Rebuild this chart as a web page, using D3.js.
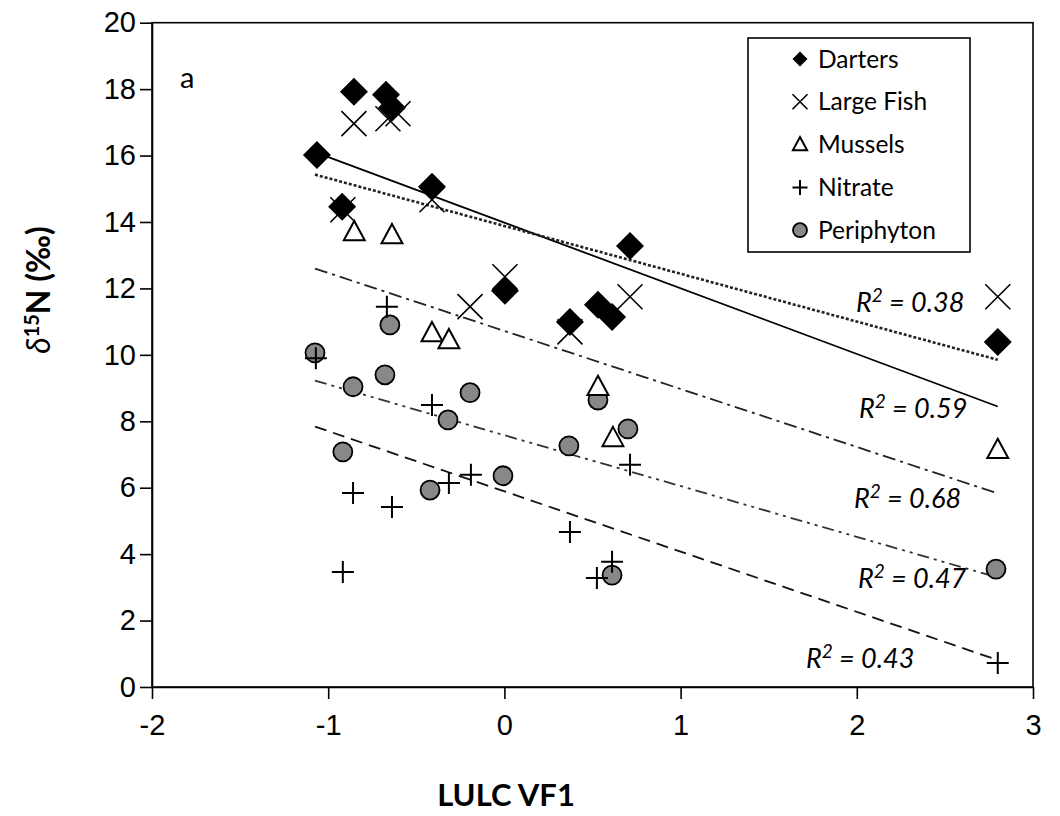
<!DOCTYPE html>
<meta charset="utf-8">
<style>
 body { margin: 0; background: #fff; }
 svg { font-family: Lato, "Open Sans", sans-serif; }
 .axis path, .axis line { stroke: #000; stroke-width: 1.6px; }
 .axis text { font-size: 29px; fill: #000; }
 .fit { fill: none; }
 .r2 { font-size: 27px; font-style: italic; }
 .legend text { font-size: 24.5px; }
</style>
<svg id="chart" width="1060" height="816"></svg>
<script src="https://cdn.jsdelivr.net/npm/d3@7"></script>
<script>

 // point values: [LULC VF1, d15N]
 var darters = [[-1.064,16.02],[-0.854,17.92],[-0.672,17.83],[-0.638,17.44],[-0.411,15.06],[-0.921,14.46],
                [0.003,11.93],[0.713,13.28],[0.372,10.99],[0.531,11.51],[0.611,11.14],[2.80,10.39]];
 var largeFish = [[-0.854,16.96],[-0.661,17.11],[-0.604,17.26],[-0.917,14.37],[-0.411,14.67],[-0.195,11.45],
                  [0.003,12.35],[0.713,11.75],[0.372,10.69],[2.80,11.75]];
 var mussels = [[-0.852,13.70],[-0.638,13.61],[-0.411,10.66],[-0.315,10.45],[0.531,9.04],[0.616,7.50],[2.80,7.14]];
 var nitrate = [[-1.07,9.9],[-0.667,11.45],[-0.411,8.49],[-0.859,5.84],[-0.638,5.42],[-0.917,3.46],[-0.315,6.14],
                [-0.190,6.39],[0.372,4.67],[0.713,6.69],[0.611,3.77],[0.525,3.28],[2.80,0.72]];
 var periphyton = [[-0.650,10.90],[-1.075,10.06],[-0.859,9.04],[-0.678,9.40],[-0.195,8.86],[-0.320,8.04],
                   [-0.917,7.08],[-0.422,5.93],[-0.008,6.36],[0.366,7.26],[0.531,8.64],[0.701,7.77],
                   [0.611,3.37],[2.79,3.55]];

 // fitted lines as drawn: slope, intercept, R2 label
 var fitNames = ["Darters", "Large Fish", "Mussels", "Periphyton", "Nitrate"];
 var fitSlope = [-1.977, -1.439, -1.747, -1.530, -1.814];
 var fitIntercept = [13.98, 13.88, 10.72, 7.58, 5.89];
 var fitR2 = ["0.59", "0.38", "0.68", "0.47", "0.43"];
 var fitRange = [-1.075, 2.80];

 var xTicks = [-2, -1, 0, 1, 2, 3];
 var yTicks = [0, 2, 4, 6, 8, 10, 12, 14, 16, 18, 20];
 var legendNames = ["Darters", "Large Fish", "Mussels", "Nitrate", "Periphyton"];

 var svg = d3.select("#chart");
 var x = d3.scaleLinear().domain([-2, 3]).range([152, 1033]);
 var y = d3.scaleLinear().domain([0, 20]).range([687, 22.7]);

 svg.append("g").attr("class", "axis").attr("transform", "translate(0,687)")
    .call(d3.axisBottom(x).tickValues(xTicks).tickFormat(function(d) { return String(d); })
          .tickSize(12).tickPadding(10).tickSizeOuter(0))
    .selectAll("text").attr("dy", "0.9em");
 svg.append("g").attr("class", "axis").attr("transform", "translate(152,0)")
    .call(d3.axisLeft(y).tickValues(yTicks).tickSize(12).tickPadding(4).tickSizeOuter(0));

 // plot frame
 svg.append("rect").attr("x", x(-2)).attr("y", y(20)).attr("width", x(3) - x(-2)).attr("height", y(0) - y(20))
    .attr("fill", "none").attr("stroke", "#000").attr("stroke-width", 1.6);

 // fitted lines
 var dashes = {"Darters": null, "Large Fish": "3,2", "Mussels": "13,5,3,5", "Periphyton": "12,5,3,5,3,5", "Nitrate": "12,7"};
 var widths = {"Darters": 1.8, "Large Fish": 2.6, "Mussels": 1.8, "Periphyton": 1.8, "Nitrate": 1.8};
 var colors = {"Darters": "#000", "Large Fish": "#222", "Mussels": "#222", "Periphyton": "#333", "Nitrate": "#111"};
 fitNames.forEach(function(n, i) {
     svg.append("line").attr("class", "fit")
        .attr("x1", x(fitRange[0])).attr("y1", y(fitSlope[i] * fitRange[0] + fitIntercept[i]))
        .attr("x2", x(fitRange[1])).attr("y2", y(fitSlope[i] * fitRange[1] + fitIntercept[i]))
        .attr("stroke", colors[n]).attr("stroke-width", widths[n])
        .attr("stroke-dasharray", dashes[n]);
 });

 // marker shapes
 function marker(g, type, s) {
     if (type == "Darters")
         g.append("path").attr("d", "M0," + (-s) + "L" + s + ",0L0," + s + "L" + (-s) + ",0Z").attr("fill", "#000");
     else if (type == "Large Fish")
         g.append("path").attr("d", "M" + (-s) + "," + (-s) + "L" + s + "," + s + "M" + (-s) + "," + s + "L" + s + "," + (-s))
          .attr("stroke", "#000").attr("stroke-width", 1.6).attr("fill", "none");
     else if (type == "Mussels")
         g.append("path").attr("d", "M0," + (-s) + "L" + (s * 0.95) + "," + (s * 0.75) + "L" + (-s * 0.95) + "," + (s * 0.75) + "Z")
          .attr("stroke", "#000").attr("stroke-width", 2).attr("fill", "#fff");
     else if (type == "Nitrate")
         g.append("path").attr("d", "M" + (-s) + ",0L" + s + ",0M0," + (-s) + "L0," + s)
          .attr("stroke", "#000").attr("stroke-width", 2).attr("fill", "none");
     else
         g.append("circle").attr("r", s).attr("fill", "#888").attr("stroke", "#000").attr("stroke-width", 1.8);
 }

 var sizes = {"Darters": 14, "Large Fish": 12.5, "Mussels": 11, "Nitrate": 11, "Periphyton": 9.5};
 var order = [["Periphyton", periphyton], ["Nitrate", nitrate], ["Mussels", mussels], ["Large Fish", largeFish], ["Darters", darters]];
 order.forEach(function(o) {
     svg.append("g").selectAll("g").data(o[1]).enter().append("g")
        .attr("transform", function(d) { return "translate(" + x(d[0]) + "," + y(d[1]) + ")"; })
        .each(function() { marker(d3.select(this), o[0], sizes[o[0]]); });
 });

 // R2 labels
 var r2Pos = {"Large Fish": [856, 312], "Darters": [859, 418], "Mussels": [854, 508], "Periphyton": [858, 588], "Nitrate": [806, 668]};
 fitNames.forEach(function(n, i) {
     var t = svg.append("text").attr("class", "r2").attr("x", r2Pos[n][0]).attr("y", r2Pos[n][1]);
     t.append("tspan").text("R");
     t.append("tspan").attr("dy", -10).attr("font-size", 19).text("2");
     t.append("tspan").attr("dy", 10).text(" = " + fitR2[i]);
 });

 // panel letter
 svg.append("text").attr("x", 180).attr("y", 88).attr("font-size", 29).text("a");

 // axis titles
 svg.append("text").attr("x", 506).attr("y", 806).attr("text-anchor", "middle")
    .attr("font-size", 31).attr("font-weight", "bold").text("LULC VF1");
 var yt = svg.append("text").attr("transform", "translate(50,290) rotate(-90)").attr("text-anchor", "middle")
    .attr("font-size", 32).attr("font-weight", "bold");
 yt.append("tspan").attr("font-style", "italic").attr("font-weight", "normal").text("δ");
 yt.append("tspan").attr("dy", -11).attr("font-size", 20).text("15");
 yt.append("tspan").attr("dy", 11).text("N (‰)");

 // legend
 var lg = svg.append("g").attr("class", "legend");
 lg.append("rect").attr("x", 748).attr("y", 38).attr("width", 222).attr("height", 214)
   .attr("fill", "#fff").attr("stroke", "#000").attr("stroke-width", 1.6);
 legendNames.forEach(function(n, i) {
     var row = lg.append("g").attr("transform", "translate(800," + (59 + i * 42.8) + ")");
     marker(row, n, n == "Periphyton" ? 7 : 7.5);
     row.append("text").attr("x", 18).attr("dy", "0.35em").text(n);
 });

</script>
